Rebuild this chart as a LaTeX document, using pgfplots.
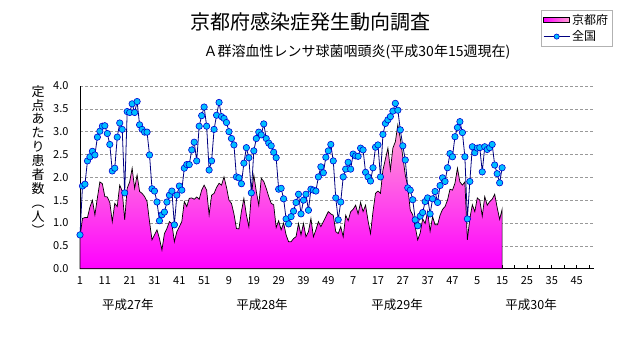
\documentclass[border=0pt]{standalone}
\usepackage{pgfplots}
\pgfplotsset{compat=1.18}
\usepackage{pgfplotstable}
\usepackage{fontspec}
\setmainfont{Noto Sans CJK JP}
\definecolor{navyline}{RGB}{0,0,128}
\definecolor{markfill}{RGB}{0,190,255}
\definecolor{markedge}{RGB}{0,0,210}
\definecolor{areatop}{RGB}{255,160,210}
\definecolor{areabot}{RGB}{255,0,255}
\pgfplotsset{
  kyotolegend/.style={legend image code/.code={\draw[draw=black, line width=0.8pt, left color=areabot, right color=areatop] (0pt,-2.5pt) rectangle (26pt,2.5pt);}},
  zenlegend/.style={legend image code/.code={\draw[mark repeat=2,mark phase=2,mark size=2.6pt,##1] plot coordinates {(0pt,0pt) (13pt,0pt) (26pt,0pt)};}},
}
\pgfplotstableread{
w k z
1 0.70 0.74
2 1.10 1.81
3 1.12 1.85
4 1.12 2.36
5 1.35 2.45
6 1.50 2.57
7 1.18 2.49
8 1.55 2.88
9 1.90 3.01
10 1.86 3.12
11 1.58 3.13
12 1.57 2.96
13 1.45 2.72
14 1.03 2.14
15 1.43 2.20
16 1.36 2.88
17 1.83 3.19
18 1.70 3.05
19 1.07 1.66
20 1.76 3.44
21 1.90 3.42
22 2.20 3.61
23 1.76 3.42
24 2.05 3.66
25 1.69 3.15
26 1.65 3.05
27 1.58 2.99
28 1.47 2.99
29 1.03 2.49
30 0.63 1.75
31 0.74 1.70
32 0.85 1.46
33 0.66 1.05
34 0.41 1.18
35 0.77 1.24
36 0.88 1.46
37 1.03 1.61
38 0.99 1.70
39 0.59 0.96
40 0.81 1.61
41 0.92 1.81
42 1.03 1.72
43 1.47 2.20
44 1.36 2.28
45 1.54 2.28
46 1.55 2.60
47 1.52 2.77
48 1.57 2.36
49 1.52 3.12
50 1.72 3.35
51 1.83 3.54
52 1.72 3.12
53 1.18 2.16
54 1.61 2.36
55 1.65 3.05
56 1.78 3.36
57 1.87 3.64
58 1.83 3.33
59 2.01 3.29
60 1.78 3.20
61 1.50 3.00
62 1.43 2.85
63 1.20 2.71
64 0.88 2.01
65 0.87 1.99
66 1.25 1.86
67 1.54 2.31
68 1.18 2.65
69 0.92 2.43
70 1.61 1.66
71 2.05 2.58
72 1.69 2.85
73 1.39 2.99
74 1.98 2.93
75 1.91 3.17
76 1.76 2.85
77 1.58 2.75
78 1.43 2.69
79 1.40 2.55
80 0.90 2.43
81 1.05 1.74
82 0.85 1.76
83 1.00 1.53
84 0.74 1.09
85 0.59 0.98
86 0.59 1.14
87 0.66 1.26
88 0.70 1.45
89 0.99 1.63
90 0.74 1.20
91 0.99 1.50
92 0.70 1.63
93 0.81 1.28
94 1.10 1.74
95 0.70 1.72
96 0.85 1.70
97 1.03 2.01
98 0.92 2.23
99 1.03 2.10
100 1.14 2.44
101 1.25 2.58
102 1.20 2.72
103 1.17 2.36
104 0.81 1.55
105 0.77 1.07
106 0.92 1.46
107 0.70 2.01
108 1.17 2.18
109 1.05 2.33
110 1.25 2.18
111 1.30 2.51
112 1.39 2.47
113 1.20 2.46
114 1.45 2.64
115 1.25 2.60
116 1.39 2.11
117 1.05 2.01
118 0.77 1.92
119 1.25 2.21
120 1.65 2.66
121 1.70 2.71
122 1.65 2.01
123 2.16 2.94
124 2.40 3.18
125 2.64 3.26
126 2.16 3.33
127 2.64 3.45
128 2.78 3.62
129 3.15 3.47
130 2.85 3.04
131 2.45 2.69
132 2.05 2.38
133 1.80 1.77
134 1.28 1.72
135 1.18 1.51
136 0.92 1.07
137 0.63 0.94
138 0.78 1.15
139 1.09 1.23
140 0.99 1.47
141 1.25 1.55
142 0.82 1.20
143 1.14 1.53
144 0.96 1.69
145 0.96 1.45
146 1.17 1.82
147 1.30 1.99
148 1.36 1.91
149 1.50 2.21
150 1.74 2.52
151 1.72 2.45
152 1.87 2.89
153 2.20 3.09
154 1.90 3.22
155 1.83 2.98
156 1.90 2.45
157 0.63 1.09
158 1.10 1.91
159 1.40 2.67
160 1.25 2.54
161 1.55 2.64
162 1.50 2.65
163 1.15 2.12
164 1.58 2.67
165 1.39 2.61
166 1.47 2.65
167 1.52 2.72
168 1.63 2.27
169 1.34 2.08
170 1.08 1.88
171 1.30 2.21
}\data
\begin{document}
\begin{tikzpicture}[x=1pt,y=1pt]
\path[use as bounding box] (0,0) rectangle (631,347);
\node[font=\fontsize{20}{22}\selectfont] at (310,325) {京都府感染症発生動向調査};
\node[font=\fontsize{14}{16}\selectfont] at (357,295) {Ａ群溶血性レンサ球菌咽頭炎(平成30年15週現在)};
\node[font=\fontsize{13}{13.9}\selectfont, align=center, inner sep=0pt, anchor=north] at (38,262) {定\\点\\あ\\た\\り\\患\\者\\数\\︵\\人\\︶};
\begin{axis}[
  at={(80pt,78.3pt)}, anchor=south west,
  scale only axis, width=514pt, height=182.7pt,
  xmin=1, xmax=208, ymin=0, ymax=4,
  clip=false,
  axis x line*=bottom, axis y line*=left,
  axis line style={black, line width=0.8pt},
  ytick={0,0.5,...,4},
  yticklabel style={xshift=-8pt, /pgf/number format/fixed, /pgf/number format/fixed zerofill, /pgf/number format/precision=1},
  ymajorgrids, grid style={densely dashed, gray!80, line width=0.5pt},
  ytick style={draw=none},
  xtick={1,11,...,201},
  xticklabels={1,11,21,31,41,51,9,19,29,39,49,7,17,27,37,47,5,15,25,35,45},
  minor xtick={6,16,...,206},
  tick align=inside,
  major tick length=4pt, minor tick length=4pt,
  xtick style={black, line width=0.6pt},
  minor tick style={black, line width=0.6pt},
  xticklabel style={yshift=-4pt},
  tick label style={font=\fontsize{11}{12}\selectfont},
  /pgf/number format/assume math mode=true,
  legend style={at={(0.897,1.416)}, anchor=north west, draw=gray!60, font=\fontsize{12}{13}\selectfont, row sep=1pt, inner sep=2pt, cells={anchor=west}},
]
\addplot[draw=black, line width=0.7pt, top color=areatop, bottom color=areabot, kyotolegend]
  table[x=w,y=k]{\data} \closedcycle;
\addlegendentry{京都府}
\addplot[navyline, line width=0.8pt, mark=*, mark size=3.2pt,
  mark options={fill=markfill, draw=markedge, line width=0.6pt}, zenlegend]
  table[x=w,y=z]{\data};
\addlegendentry{全国}
\node[font=\fontsize{12.5}{14}\selectfont] at (axis cs:20.3,0) [yshift=-36pt] {平成27年};
\node[font=\fontsize{12.5}{14}\selectfont] at (axis cs:74.3,0) [yshift=-36pt] {平成28年};
\node[font=\fontsize{12.5}{14}\selectfont] at (axis cs:128.7,0) [yshift=-36pt] {平成29年};
\node[font=\fontsize{12.5}{14}\selectfont] at (axis cs:182.7,0) [yshift=-36pt] {平成30年};
\end{axis}
\end{tikzpicture}
\end{document}
